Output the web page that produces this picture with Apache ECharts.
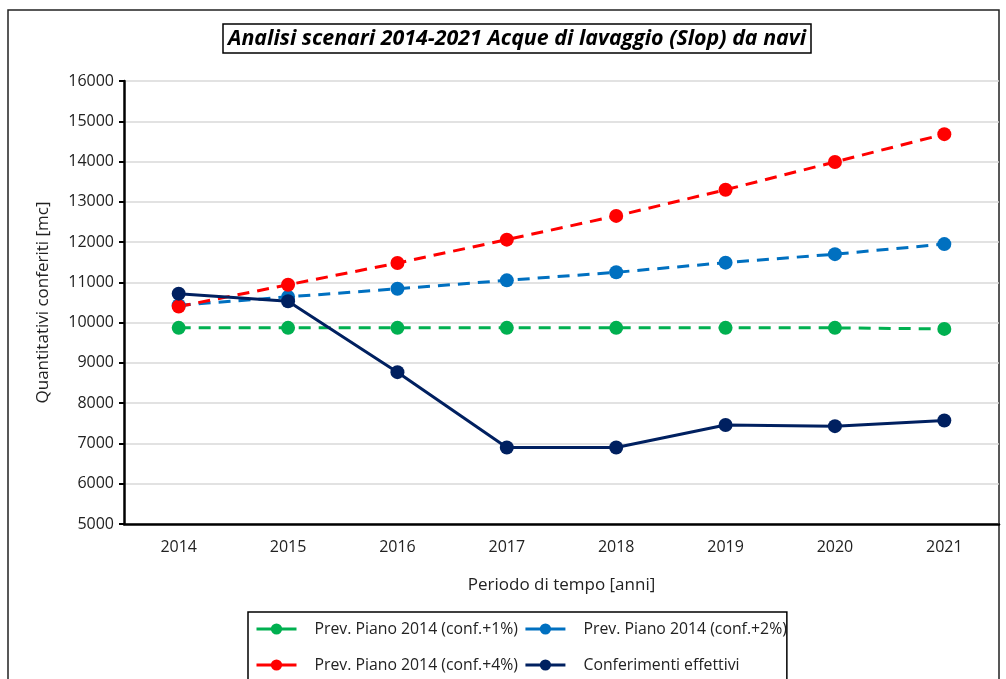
<!DOCTYPE html>
<html>
<head>
<meta charset="utf-8">
<script src="https://cdn.jsdelivr.net/npm/echarts@6/dist/echarts.min.js"></script>
<style>
  html, body { margin: 0; padding: 0; background: #fff; }
  #chart { width: 1006px; height: 679px; }
</style>
</head>
<body>
<div id="chart"></div>
<script>
// anni
var years = ['2014', '2015', '2016', '2017', '2018', '2019', '2020', '2021'];
// previsioni piano 2014
var prev1 = [9870, 9870, 9870, 9870, 9870, 9870, 9870, 9845];
var prev2 = [10430, 10640, 10840, 11050, 11250, 11490, 11700, 11950];
var prev4 = [10400, 10940, 11480, 12060, 12650, 13300, 13990, 14680];
// conferimenti reali
var effettivi = [10720, 10530, 8770, 6900, 6900, 7460, 7430, 7570];

var names = [
  'Prev. Piano 2014 (conf.+1%)',
  'Prev. Piano 2014 (conf.+2%)',
  'Prev. Piano 2014 (conf.+4%)',
  'Conferimenti effettivi'
];

var font = "'Open Sans', 'Liberation Sans', sans-serif";

function serie(name, data, color, dashed) {
  return {
    name: name,
    type: 'line',
    data: data,
    symbol: 'circle',
    symbolSize: 14,
    color: color,
    lineStyle: { width: 3, color: color, type: dashed ? [12, 8] : 'solid' },
    itemStyle: { color: color },
    emphasis: { disabled: true }
  };
}

var myChart = echarts.init(document.getElementById('chart'));
myChart.setOption({
  animation: false,
  title: {
    text: 'Analisi scenari 2014-2021 Acque di lavaggio (Slop) da navi',
    left: 223,
    top: 24,
    padding: [4, 5, 4, 5],
    borderColor: '#000',
    borderWidth: 1.5,
    textStyle: {
      fontFamily: font,
      fontSize: 21.4,
      fontWeight: 'bold',
      fontStyle: 'italic',
      color: '#000'
    }
  },
  graphic: [{
    type: 'rect',
    shape: { x: 8, y: 10, width: 991, height: 700 },
    style: { fill: 'none', stroke: '#222', lineWidth: 1.5 },
    z: -1
  }],
  legend: {
    data: names,
    left: 248,
    top: 612,
    width: 560,
    itemWidth: 40,
    itemHeight: 14,
    itemGap: 6,
    padding: [2, 0, 0, 7],
    borderColor: '#000',
    borderWidth: 1.5,
    lineStyle: { width: 3, type: 'solid' },
    textStyle: {
      fontFamily: font,
      fontSize: 15.8,
      color: '#222',
      width: 199,
      lineHeight: 30,
      padding: [0, 0, 0, 13]
    }
  },
  grid: { left: 124, right: 7, top: 81, bottom: 155 },
  xAxis: {
    type: 'category',
    data: years,
    name: 'Periodo di tempo [anni]',
    nameLocation: 'middle',
    nameGap: 53,
    nameTextStyle: { fontFamily: font, fontSize: 17, color: '#222' },
    axisLine: { lineStyle: { color: '#000', width: 2.5 } },
    axisTick: { alignWithLabel: true, length: 3, lineStyle: { color: '#000', width: 2 } },
    axisLabel: { fontFamily: font, fontSize: 16, color: '#222', margin: 15 },
    splitLine: { show: false }
  },
  yAxis: {
    type: 'value',
    min: 5000,
    max: 16000,
    interval: 1000,
    name: 'Quantitativi conferiti [mc]',
    nameLocation: 'middle',
    nameGap: 72,
    nameTextStyle: { fontFamily: font, fontSize: 17, color: '#222' },
    axisLine: { show: true, lineStyle: { color: '#000', width: 2.5 } },
    axisTick: { show: true, length: 5, lineStyle: { color: '#000', width: 2 } },
    axisLabel: {
      fontFamily: font, fontSize: 16, color: '#222', margin: 10,
      formatter: function (v) { return String(v); }
    },
    splitLine: { lineStyle: { color: '#d9d9d9', width: 1.5 } }
  },
  series: [
    serie(names[0], prev1, '#00B050', true),
    serie(names[1], prev2, '#0070C0', true),
    serie(names[2], prev4, '#FF0000', true),
    serie(names[3], effettivi, '#002060', false)
  ]
});
</script>
</body>
</html>
